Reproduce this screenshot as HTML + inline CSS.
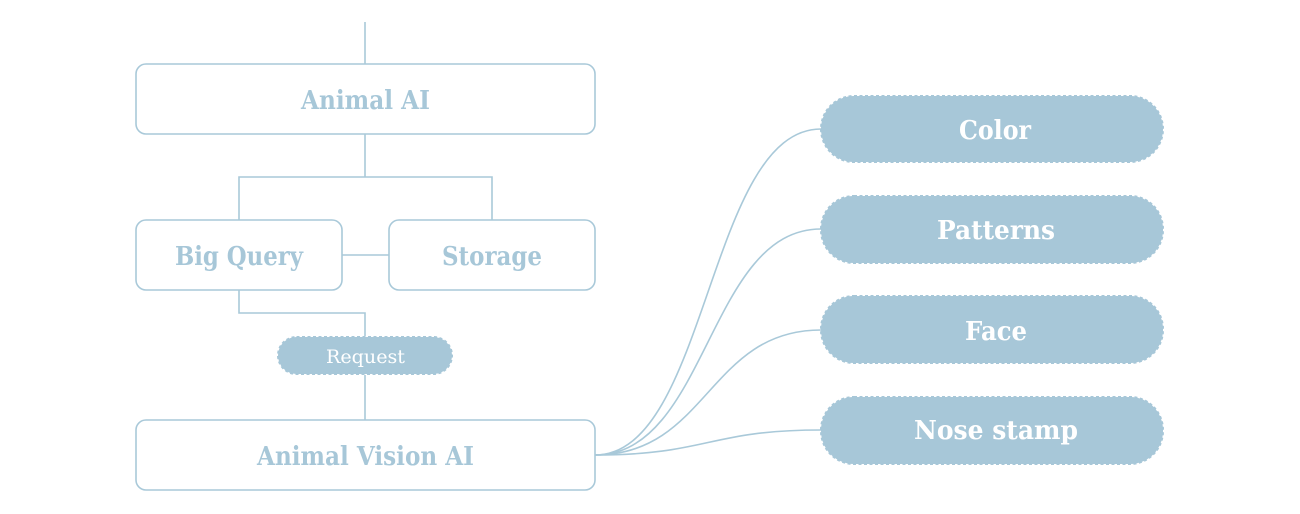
<!DOCTYPE html>
<html>
<head>
<meta charset="utf-8">
<style>
  html, body { margin: 0; padding: 0; background: #ffffff; }
  body { width: 1300px; height: 514px; overflow: hidden; }
  svg { display: block; }
  .box { fill: #ffffff; stroke: #a9c9d9; stroke-width: 1.6; }
  .ln { fill: none; stroke: #a9c9d9; stroke-width: 1.6; }
  .pill { fill: #a7c7d8; stroke: #a7c7d8; stroke-width: 2; stroke-dasharray: 3 2.5; }
  .bt { font-family: "DejaVu Serif", "Liberation Serif", serif; font-weight: bold; fill: #a7c7d8; font-size: 26px; }
  .pt { font-family: "DejaVu Serif", "Liberation Serif", serif; font-weight: bold; fill: #ffffff; font-size: 26px; }
  .rt { font-family: "DejaVu Serif", "Liberation Serif", serif; fill: #ffffff; font-size: 19px; }
</style>
</head>
<body>
<svg width="1300" height="514" viewBox="0 0 1300 514" xmlns="http://www.w3.org/2000/svg">
  <!-- connectors -->
  <line class="ln" x1="365" y1="22" x2="365" y2="64"/>
  <polyline class="ln" points="365,134 365,177"/>
  <polyline class="ln" points="239,220 239,177 492,177 492,220"/>
  <line class="ln" x1="342" y1="255" x2="389" y2="255"/>
  <polyline class="ln" points="239,290 239,313 365,313 365,336"/>
  <line class="ln" x1="365" y1="375" x2="365" y2="420"/>

  <path class="ln" d="M595,455 C708,455 708,129 821,129"/>
  <path class="ln" d="M595,455 C708,455 708,229 821,229"/>
  <path class="ln" d="M595,455 C708,455 708,330 821,330"/>
  <path class="ln" d="M595,455 C708,455 708,430 821,430"/>

  <!-- boxes -->
  <rect class="box" x="136" y="64" width="459" height="70" rx="10" ry="10"/>
  <rect class="box" x="136" y="220" width="206" height="70" rx="10" ry="10"/>
  <rect class="box" x="389" y="220" width="206" height="70" rx="10" ry="10"/>
  <rect class="box" x="136" y="420" width="459" height="70" rx="10" ry="10"/>

  <!-- request pill -->
  <rect class="pill" x="278" y="337" width="174" height="37" rx="18.5" ry="18.5"/>

  <!-- right pills -->
  <rect class="pill" x="821" y="96" width="342" height="66" rx="33" ry="33"/>
  <rect class="pill" x="821" y="196" width="342" height="67" rx="33" ry="33"/>
  <rect class="pill" x="821" y="296" width="342" height="67" rx="33" ry="33"/>
  <rect class="pill" x="821" y="397" width="342" height="67" rx="33" ry="33"/>

  <!-- labels -->
  <text class="bt" x="301" y="109" textLength="129" lengthAdjust="spacingAndGlyphs">Animal AI</text>
  <text class="bt" x="175" y="265" textLength="128" lengthAdjust="spacingAndGlyphs">Big Query</text>
  <text class="bt" x="442" y="265" textLength="100" lengthAdjust="spacingAndGlyphs">Storage</text>
  <text class="rt" x="326" y="363" textLength="79" lengthAdjust="spacingAndGlyphs">Request</text>
  <text class="bt" x="257" y="465" textLength="217" lengthAdjust="spacingAndGlyphs">Animal Vision AI</text>

  <text class="pt" x="959" y="139" textLength="72" lengthAdjust="spacingAndGlyphs">Color</text>
  <text class="pt" x="937" y="239" textLength="118" lengthAdjust="spacingAndGlyphs">Patterns</text>
  <text class="pt" x="965" y="340" textLength="62" lengthAdjust="spacingAndGlyphs">Face</text>
  <text class="pt" x="914" y="439" textLength="164" lengthAdjust="spacingAndGlyphs">Nose stamp</text>
</svg>
</body>
</html>
